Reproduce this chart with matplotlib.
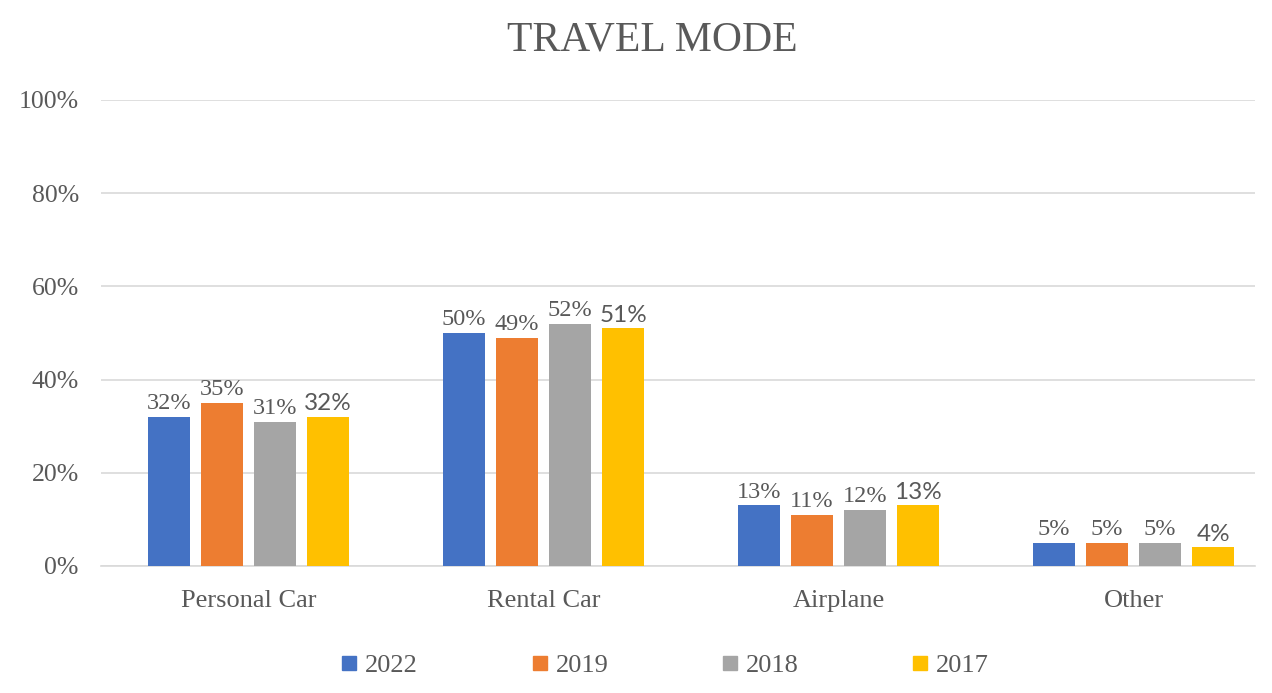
import matplotlib
matplotlib.use("Agg")
import matplotlib.pyplot as plt
import numpy as np
from matplotlib.lines import Line2D

categories = ["Personal Car", "Rental Car", "Airplane", "Other"]
years = ["2022", "2019", "2018", "2017"]
v2022 = [32, 50, 13, 5]
v2019 = [35, 49, 11, 5]
v2018 = [31, 52, 12, 5]
v2017 = [32, 51, 13, 4]
series = [v2022, v2019, v2018, v2017]
colors = ["#4472C4", "#ED7D31", "#A5A5A5", "#FFC000"]
yticks = [0, 20, 40, 60, 80, 100]

W, H = 1272, 693
fig = plt.figure(figsize=(W / 100, H / 100), dpi=100)
ax = fig.add_axes([101 / W, 127 / H, (1255 - 101) / W, (566 - 100) / H])

serif = "Liberation Serif"
txtc = "#595959"
x = np.arange(len(categories))
bw = 0.142
step = 0.18
for i, (vals, c) in enumerate(zip(series, colors)):
    off = (i - 1.5) * step
    bars = ax.bar(x + off, vals, width=bw, color=c, zorder=3)
    for b, v in zip(bars, vals):
        if i == 3:
            fam, fs = "Lato", 17.5
        else:
            fam, fs = serif, 17.5
        ax.annotate(f"{v}%", (b.get_x() + b.get_width() / 2, v),
                    xytext=(0, 2), textcoords="offset points",
                    ha="center", va="bottom", fontsize=fs, family=fam, color=txtc)

ax.set_xlim(-0.5, 3.412)
ax.set_ylim(0, 100)
ax.set_yticks(yticks)
ax.set_yticklabels([f"{t}%" for t in yticks], family=serif, fontsize=18.5, color=txtc)
ax.set_xticks(x)
ax.set_xticklabels(categories, family=serif, fontsize=19, color=txtc)
ax.tick_params(axis="both", length=0)
ax.tick_params(axis="y", pad=16)
ax.tick_params(axis="x", pad=17)
ax.grid(axis="y", color="#D9D9D9", linewidth=1.2, zorder=0)
for s in ["top", "right", "left"]:
    ax.spines[s].set_visible(False)
ax.spines["bottom"].set_color("#D9D9D9")
ax.spines["bottom"].set_linewidth(1.2)

fig.text(652 / W, 1 - 40 / H, "TRAVEL MODE", ha="center", va="center",
         family=serif, fontsize=30, color=txtc)

handles = [Line2D([0], [0], marker="s", linestyle="none", markersize=10,
                  markerfacecolor=c, markeredgecolor=c) for c in colors]
leg = fig.legend(handles, years, loc="center", bbox_to_anchor=(665 / W, 1 - 665 / H),
                 ncol=4, frameon=False, handlelength=0.6, handletextpad=0.3,
                 columnspacing=4.3, prop={"family": serif, "size": 19})
for t in leg.get_texts():
    t.set_color(txtc)

fig.savefig("out.png", dpi=100)
